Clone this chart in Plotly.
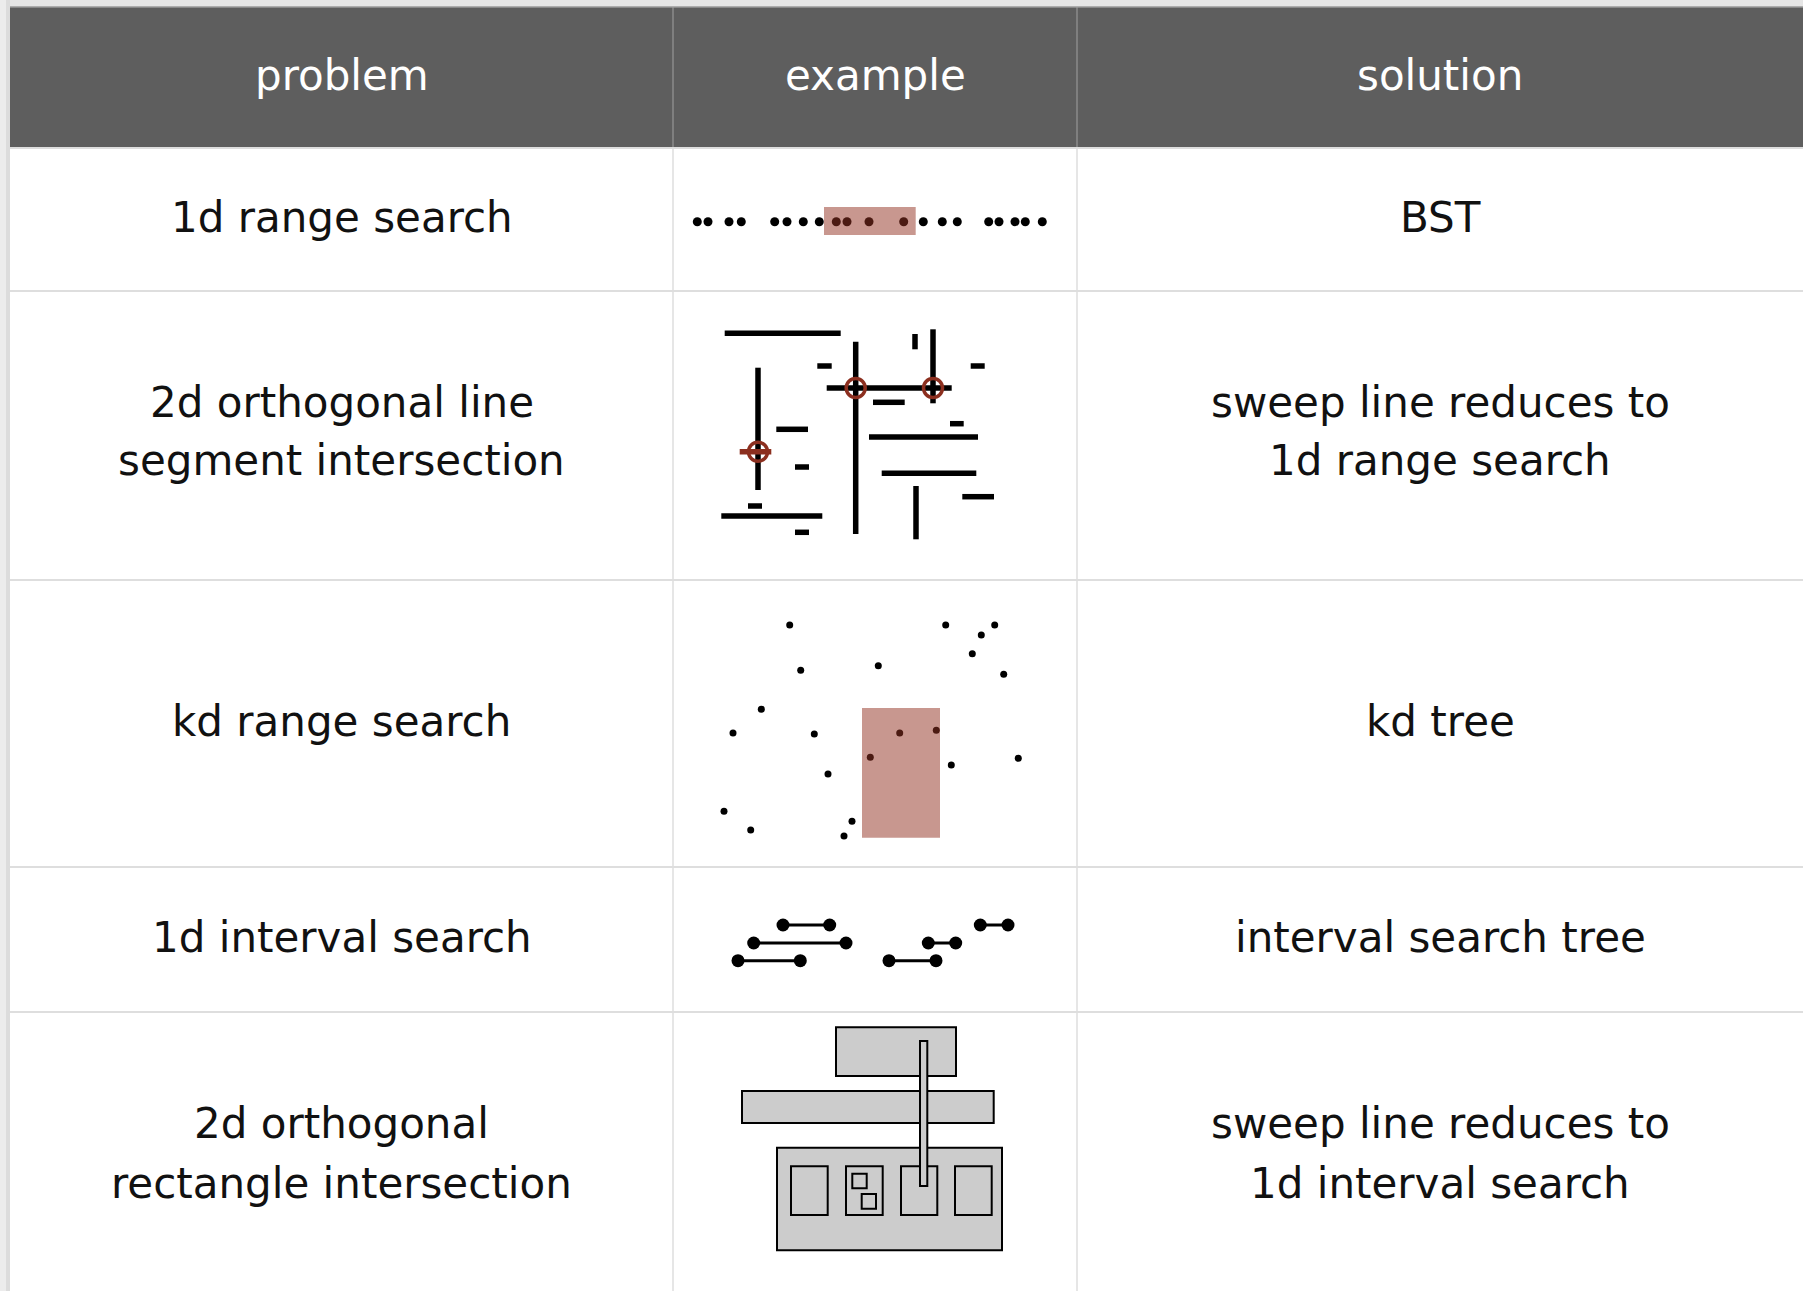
import plotly.graph_objects as go

W, H = 1803, 1291

# ---------------- table text ----------------
headers = ["problem", "example", "solution"]
problems = [
    ["1d range search"],
    ["2d orthogonal line", "segment intersection"],
    ["kd range search"],
    ["1d interval search"],
    ["2d orthogonal", "rectangle intersection"],
]
solutions = [
    ["BST"],
    ["sweep line reduces to", "1d range search"],
    ["kd tree"],
    ["interval search tree"],
    ["sweep line reduces to", "1d interval search"],
]

# ---------------- example 1: 1d range search ----------------
range1d_points = [24.3, 35, 56, 68.3, 101.7, 114, 130.3, 146.3, 163.3, 174,
                  196, 230.7, 250.3, 269.3, 284.3, 315.7, 326, 342, 352.3, 369.3]
range1d_query = [151, 242.7]

# ---------------- example 2: orthogonal segments ----------------
hseg_x0 = [51.7, 144.3, 297.7, 153.7, 200, 277, 196, 103.3, 122, 208.7, 289.3, 75, 48.3, 122]
hseg_x1 = [167.7, 158.7, 311.7, 278.7, 231.7, 290.7, 305, 135, 136, 303.3, 321, 89, 149.3, 136]
hseg_y = [42.3, 75, 75, 97, 111.3, 132.7, 146, 138.3, 176, 182.3, 205.7, 215, 225, 241.3]
hot_seg_x0 = [66.7]
hot_seg_x1 = [98.3]
hot_seg_y = [160.7]
vseg_x = [85, 182.7, 242, 260, 243]
vseg_y0 = [76.7, 50.7, 43, 38.3, 195]
vseg_y1 = [199, 243, 58.3, 112.3, 248.3]

# ---------------- example 3: kd range search ----------------
kd_x = [116.7, 272.7, 321.7, 308.3, 299.3, 127.7, 205.3, 330.7, 88.3, 60, 141.3,
        226.7, 263.3, 197.3, 278.3, 345.3, 155, 51, 77.7, 179, 171]
kd_y = [45, 45, 45, 55, 73.7, 90.3, 85.7, 94.3, 129.3, 153, 154,
        153, 150.3, 177.3, 185, 178.3, 194, 231.3, 250, 241.3, 256]
kd_query_x = [189, 267]
kd_query_y = [128, 257.7]

# ---------------- example 4: 1d intervals ----------------
iv_lo = [110, 307.3, 80.7, 255.3, 65, 216]
iv_hi = [156.7, 335, 173, 282.7, 127.3, 263]
iv_level = [58, 58, 76, 76, 93.7, 93.7]

# ---------------- example 5: rectangles ----------------
rect_x0 = [163, 69, 104, 118, 173, 228, 282, 179.3, 188.7, 247]
rect_x1 = [283, 320.7, 329, 154.7, 209.7, 264.3, 318.7, 193.7, 203, 254.3]
rect_y0 = [15.3, 79, 135.7, 154.3, 154.3, 154.3, 154.3, 161.7, 182, 29]
rect_y1 = [64, 111, 238.3, 203, 203, 203, 203, 176.3, 196.7, 174]

# ---------------- layout constants ----------------
col_x = [10, 673, 1077, 1803]
row_y = [7, 148, 291, 580, 867, 1012, 1291]
header_text_y = 75
text_y = [[217], [402, 461], [721], [937], [1123, 1183]]
FONT = "DejaVu Sans"
FS = 42
HEADER_BG = "#5e5e5e"
GRID = "#dedede"
HOT = "#8c2f1f"
QUERY_FILL = "rgba(147,51,35,0.51)"


def px(x):
    return x / W


def py(y):
    return 1 - y / H


fig = go.Figure()
shapes = []
annotations = []

# shadows / frame
shapes.append(dict(type="rect", xref="paper", yref="paper", x0=0, x1=1, y0=py(0), y1=py(7),
                   fillcolor="#e6e6e6", line_width=0, layer="below"))
shapes.append(dict(type="rect", xref="paper", yref="paper", x0=0, x1=px(6), y0=0, y1=1,
                   fillcolor="#ececec", line_width=0, layer="below"))
shapes.append(dict(type="rect", xref="paper", yref="paper", x0=px(6), x1=px(10), y0=0, y1=1,
                   fillcolor="#dcdcdc", line_width=0, layer="below"))
# header
shapes.append(dict(type="rect", xref="paper", yref="paper", x0=px(col_x[0]), x1=1,
                   y0=py(row_y[1]), y1=py(row_y[0]), fillcolor=HEADER_BG, line_width=0, layer="below"))
shapes.append(dict(type="line", xref="paper", yref="paper", x0=px(col_x[0]), x1=1,
                   y0=py(row_y[0]), y1=py(row_y[0]), line=dict(color="#9a9a9a", width=1.5), layer="below"))
for cx in col_x[1:3]:
    shapes.append(dict(type="line", xref="paper", yref="paper", x0=px(cx), x1=px(cx),
                       y0=py(row_y[1]), y1=py(row_y[0]), line=dict(color="#a0a0a0", width=1), layer="below"))
    shapes.append(dict(type="line", xref="paper", yref="paper", x0=px(cx), x1=px(cx),
                       y0=py(row_y[-1]), y1=py(row_y[1]), line=dict(color=GRID, width=1.5), layer="below"))
for ry in row_y[1:-1]:
    shapes.append(dict(type="line", xref="paper", yref="paper", x0=px(col_x[0]), x1=1,
                       y0=py(ry), y1=py(ry), line=dict(color=GRID, width=2), layer="below"))

# header text
for i, h in enumerate(headers):
    cx = (col_x[i] + col_x[i + 1]) / 2
    annotations.append(dict(text=h, xref="paper", yref="paper", x=px(cx), y=py(header_text_y),
                            xanchor="center", yanchor="middle", showarrow=False,
                            font=dict(family=FONT, size=FS, color="white")))

# body text
for r in range(len(problems)):
    for col, lines in ((0, problems[r]), (2, solutions[r])):
        cx = (col_x[col] + col_x[col + 1]) / 2
        for line, ly in zip(lines, text_y[r]):
            annotations.append(dict(text=line, xref="paper", yref="paper", x=px(cx), y=py(ly),
                                    xanchor="center", yanchor="middle", showarrow=False,
                                    font=dict(family=FONT, size=FS, color="#111111")))

# example sub-axes
for r in range(5):
    top, bot = row_y[r + 1], row_y[r + 2]
    n = r + 2
    fig.update_layout(**{
        f"xaxis{n}": dict(domain=[px(col_x[1]), px(col_x[2])], range=[0, col_x[2] - col_x[1]],
                          visible=False, fixedrange=True, anchor=f"y{n}"),
        f"yaxis{n}": dict(domain=[py(bot), py(top)], range=[bot - top, 0],
                          visible=False, fixedrange=True, anchor=f"x{n}"),
    })

# ex1
fig.add_trace(go.Scatter(x=range1d_points, y=[73.7] * len(range1d_points), mode="markers",
                         marker=dict(size=9, color="black"), xaxis="x2", yaxis="y2",
                         hoverinfo="skip", showlegend=False))
shapes.append(dict(type="rect", xref="x2", yref="y2", x0=range1d_query[0], x1=range1d_query[1],
                   y0=59, y1=87, fillcolor=QUERY_FILL, line_width=0))

# ex2
hx, hy = [], []
for a, b, y in zip(hseg_x0, hseg_x1, hseg_y):
    hx += [a, b, None]
    hy += [y, y, None]
vx, vy = [], []
for x, a, b in zip(vseg_x, vseg_y0, vseg_y1):
    vx += [x, x, None]
    vy += [a, b, None]
rx, ry_ = [], []
for a, b, y in zip(hot_seg_x0, hot_seg_x1, hot_seg_y):
    rx += [a, b, None]
    ry_ += [y, y, None]
fig.add_trace(go.Scatter(x=hx, y=hy, mode="lines", line=dict(color="black", width=5.5),
                         xaxis="x3", yaxis="y3", hoverinfo="skip", showlegend=False))
fig.add_trace(go.Scatter(x=vx, y=vy, mode="lines", line=dict(color="black", width=5.5),
                         xaxis="x3", yaxis="y3", hoverinfo="skip", showlegend=False))
fig.add_trace(go.Scatter(x=rx, y=ry_, mode="lines", line=dict(color=HOT, width=5.5),
                         xaxis="x3", yaxis="y3", hoverinfo="skip", showlegend=False))
all_h = list(zip(hseg_x0 + hot_seg_x0, hseg_x1 + hot_seg_x1, hseg_y + hot_seg_y))
ix, iy = [], []
for a, b, y in all_h:
    for x, c, d in zip(vseg_x, vseg_y0, vseg_y1):
        if a <= x <= b and c <= y <= d:
            ix.append(x)
            iy.append(y)
fig.add_trace(go.Scatter(x=ix, y=iy, mode="markers",
                         marker=dict(symbol="circle-open", size=19, color=HOT, line=dict(width=3.5)),
                         xaxis="x3", yaxis="y3", hoverinfo="skip", showlegend=False))

# ex3
fig.add_trace(go.Scatter(x=kd_x, y=kd_y, mode="markers", marker=dict(size=7, color="black"),
                         xaxis="x4", yaxis="y4", hoverinfo="skip", showlegend=False))
shapes.append(dict(type="rect", xref="x4", yref="y4", x0=kd_query_x[0], x1=kd_query_x[1],
                   y0=kd_query_y[0], y1=kd_query_y[1], fillcolor=QUERY_FILL, line_width=0))

# ex4
ivx, ivy = [], []
for a, b, y in zip(iv_lo, iv_hi, iv_level):
    ivx += [a, b, None]
    ivy += [y, y, None]
fig.add_trace(go.Scatter(x=ivx, y=ivy, mode="lines+markers", line=dict(color="black", width=3),
                         marker=dict(size=13, color="black"), xaxis="x5", yaxis="y5",
                         hoverinfo="skip", showlegend=False))

# ex5
for a, b, c, d in zip(rect_x0, rect_x1, rect_y0, rect_y1):
    shapes.append(dict(type="rect", xref="x6", yref="y6", x0=a, x1=b, y0=c, y1=d,
                       fillcolor="#cccccc", line=dict(color="black", width=2)))

fig.update_layout(
    width=W, height=H, margin=dict(l=0, r=0, t=0, b=0),
    paper_bgcolor="white", plot_bgcolor="rgba(0,0,0,0)",
    xaxis=dict(visible=False), yaxis=dict(visible=False),
    shapes=shapes, annotations=annotations, showlegend=False,
)

fig.write_html("out.html", config={"displayModeBar": False},
               post_script="document.body.style.margin='0';document.body.style.overflow='hidden';")
